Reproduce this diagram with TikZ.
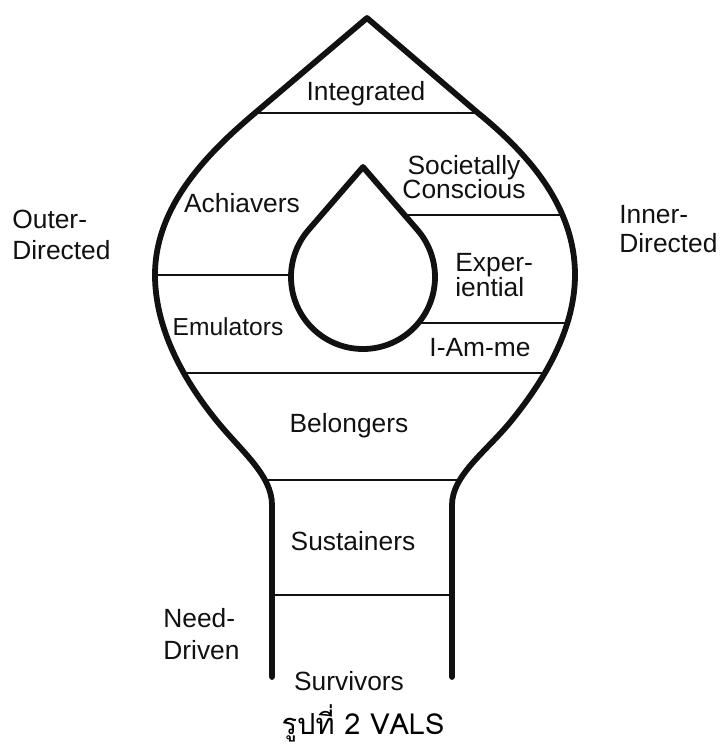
\documentclass[tikz,border=0pt]{standalone}
\usepackage{fontspec}
\setmainfont{Liberation Sans}
\newfontfamily\thaifont[Script=Thai]{Loma}
\definecolor{ValsInk}{HTML}{111111}
\tikzset{
  vals/outline/.style={
    draw=ValsInk, line width=3.3pt, line join=round, line cap=round
  },
  vals/drop/.style={vals/outline, fill=white},
  vals/rule/.style={draw=ValsInk, line width=1.6pt},
  vals/label/.style={
    font=\fontsize{15}{15}\selectfont, text=ValsInk,
    inner sep=0pt, align=center
  },
  vals/side/.style={
    vals/label, align=left, anchor=west,
    font=\fontsize{15}{17.5}\selectfont
  },
  vals/caption/.style={font=\thaifont\fontsize{16.5}{16.5}\selectfont, inner sep=0pt}
}
\begin{document}
\begin{tikzpicture}[x=0.02cm,y=0.02cm]
  \useasboundingbox (0,0) rectangle (720,-745);
  % dividing rules, kept inside the bulb
  \begin{scope}
    \clip (367,-18) -- (255,-113)
      .. controls (209,-152) and (155,-205) .. (155,-275)
      .. controls (155,-335) and (191,-389) .. (216,-420)
      .. controls (241,-451) and (272,-475) .. (272,-505)
      -- (272,-700) -- (452,-700) -- (452,-505)
      .. controls (452,-475) and (487,-451) .. (512,-420)
      .. controls (537,-389) and (575,-335) .. (575,-275)
      .. controls (575,-205) and (526,-152) .. (478,-113) -- cycle;
    \foreach \y in {113,373,480,595}
      \draw[vals/rule] (100,-\y) -- (650,-\y);
    \foreach \y/\xa/\xb in {215/363/650,275/100/363,323/363/650}
      \draw[vals/rule] (\xa,-\y) -- (\xb,-\y);
  \end{scope}
  % outer shape
  \draw[vals/outline] (272,-677) -- (272,-505)
    .. controls (272,-475) and (241,-451) .. (216,-420)
    .. controls (191,-389) and (155,-335) .. (155,-275)
    .. controls (155,-205) and (209,-152) .. (255,-113)
    -- (367,-18) -- (478,-113)
    .. controls (526,-152) and (575,-205) .. (575,-275)
    .. controls (575,-335) and (537,-389) .. (512,-420)
    .. controls (487,-451) and (452,-475) .. (452,-505) -- (452,-677);
  % inner drop
  \coordinate (dropc) at (363,-277);
  \coordinate (droptip) at (363,-167);
  \draw[vals/drop] (droptip) -- ([shift={(139.1:72)}]dropc)
    arc[start angle=139.1, end angle=400.9, radius=72] -- cycle;
  % segment labels
  \node[vals/label] (integrated) at (366,-94) {Integrated};
  \node[vals/label,font=\fontsize{15}{14}\selectfont] (societal) at (464,-177)
    {Societally\\Conscious};
  \node[vals/label] (achievers) at (242,-203) {Achiavers};
  \node[vals/label,align=left,anchor=west,font=\fontsize{15}{14.7}\selectfont]
    (experiential) at (455,-275) {Exper-\\iential};
  \node[vals/label,font=\fontsize{14}{14}\selectfont] (emulators) at (228,-327) {Emulators};
  \node[vals/label] (iamme) at (480,-348) {I-Am-me};
  \node[vals/label] (belongers) at (349,-426) {Belongers};
  \node[vals/label] (sustainers) at (353,-541) {Sustainers};
  \node[vals/label] (survivors) at (349,-681) {Survivors};
  % side groups
  \node[vals/side] (outer) at (12,-235) {Outer-\\Directed};
  \node[vals/side,font=\fontsize{15}{16}\selectfont] (inner) at (619,-229) {Inner-\\Directed};
  \node[vals/side,font=\fontsize{15}{18}\selectfont] (needdriven) at (163,-634) {Need-\\Driven};
  \node[vals/caption] (caption) at (363,-723) {รูปที่ 2 VALS};
\end{tikzpicture}
\end{document}
